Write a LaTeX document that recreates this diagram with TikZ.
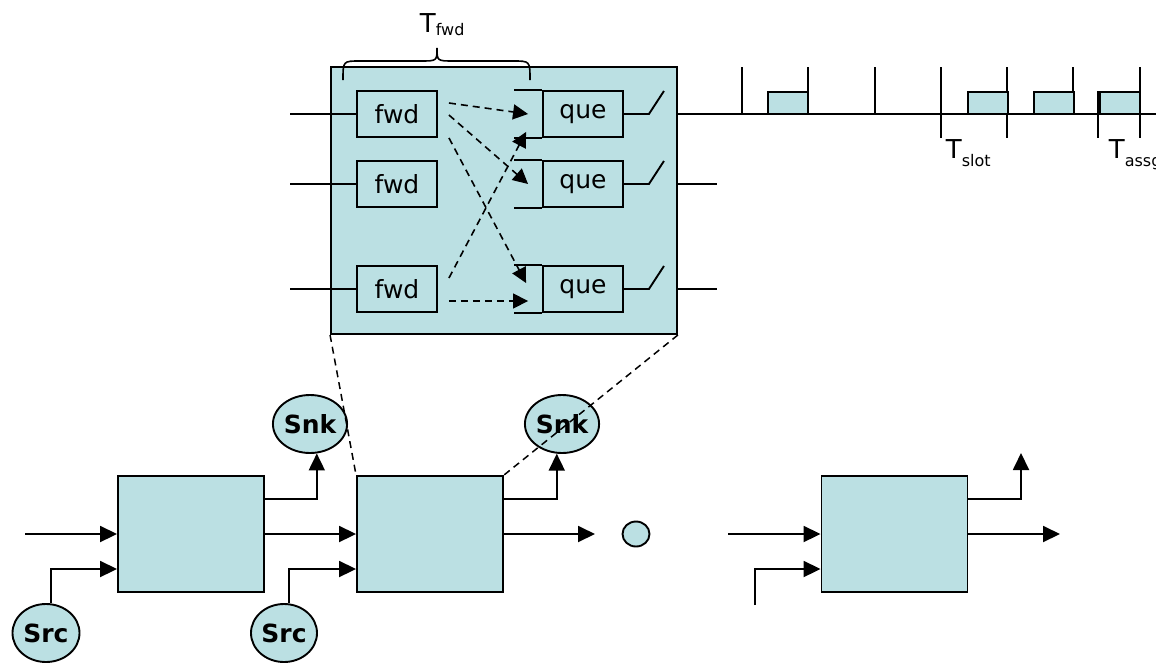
\documentclass[tikz,border=0pt]{standalone}
\usepackage{fontspec}
\setmainfont{DejaVu Sans}
\usetikzlibrary{arrows.meta,calc,shapes.geometric}
\definecolor{boxfill}{RGB}{187,224,227}
\newcommand{\mysubT}[2]{T\raisebox{-#2}{\fontsize{16}{16}\selectfont #1}}
\begin{document}
\begin{tikzpicture}[x=1pt,y=-1pt, line width=1.9pt,
  blk/.style={draw, fill=boxfill, inner sep=0pt},
  small/.style={blk, minimum width=80pt, minimum height=46pt, font=\fontsize{25}{27}\selectfont},
  bigblk/.style={blk, minimum width=146pt, minimum height=116pt},
  arr/.style={-{Triangle[length=17pt,width=16pt]}},
  darr/.style={line width=1.6pt, dash pattern=on 7pt off 5pt, -{Triangle[length=15pt,width=15pt]}},
  zoomline/.style={line width=1.5pt, dash pattern=on 7pt off 5pt},
  ell/.style={draw, fill=boxfill, ellipse, inner sep=0pt, minimum width=66pt, minimum height=58pt, font=\bfseries\fontsize{25}{27}\selectfont},
  tlbl/.style={anchor=base west, inner sep=0pt, font=\fontsize{26}{28}\selectfont}]
\useasboundingbox (0,0) rectangle (1156,662);

% ---------- zoomed router ----------
\node[blk, minimum width=346pt, minimum height=267pt] (big) at (504,200.5) {};

\node[small] (f1) at (397,114) {fwd};
\node[small] (f2) at (397,184) {fwd};
\node[small] (f3) at (397,289) {fwd};
\node[small] (q1) at (583,114) {que};
\node[small] (q2) at (583,184) {que};
\node[small] (q3) at (583,289) {que};

% inputs
\coordinate (i1) at (290,114);
\coordinate (i2) at (290,184);
\coordinate (i3) at (290,289);
\draw (i1) -- (f1.west);
\draw (i2) -- (f2.west);
\draw (i3) -- (f3.west);

% queue brackets
\foreach \q in {q1,q2,q3}{
  \draw (\q.north west) -- ++(-28,0);
  \draw (\q.south west) -- ++(-28,0);
  \draw (\q.east) -- ++(25,0) -- ++(15,-23);
}

% outputs
\coordinate (o2) at (717,184);
\coordinate (o3) at (717,289);
\coordinate (tl) at (1160,114);
\draw (big.east |- q1) -- (tl);
\draw (big.east |- q2) -- (o2);
\draw (big.east |- q3) -- (o3);

% dashed forwarding arrows
\draw[darr] ($(f1.east)+(11,-11)$) -- ($(q1.west)+(-14,0)$);
\draw[darr] ($(f1.east)+(11,1)$) -- ($(q2.west)+(-14,0)$);
\draw[darr] ($(f1.south east)+(11,0)$) -- ($(q3.west)+(-16,-6)$);
\draw[darr] ($(f3.east)+(11,-11)$) -- ($(q1.south west)+(-16,-6)$);
\draw[darr] ($(f3.east)+(11,12)$) -- ($(q3.west)+(-14,12)$);

% brace and T_fwd
\draw[line width=1.6pt] (343,80) .. controls (343,61) .. (360,61) -- (420,61)
  .. controls (437,61) .. (437,48) .. controls (437,61) .. (454,61) -- (513,61)
  .. controls (530,61) .. (530,80);
\node[tlbl] (tfwd) at (419,32) {\mysubT{fwd}{3.5pt}};

% ---------- time line ----------
\foreach \x in {741.7,808,875,1073}{\draw (\x,67) -- (\x,114);}
\foreach \x in {940.7,1006.7,1140}{\draw (\x,67) -- (\x,138);}
\draw (1097.7,91) -- (1097.7,138);
\foreach \x in {768,967.7,1034,1100}{\draw[fill=boxfill] (\x,92) rectangle (\x+40,114);}
\node[tlbl] (tslot) at (945,158) {\mysubT{slot}{8pt}};
\node[tlbl] (tassg) at (1108,158) {\mysubT{assg}{8pt}};

% ---------- lower network ----------
\node[bigblk] (b1) at (191,534) {};
\node[bigblk] (b2) at (430,534) {};
\node[bigblk] (b3) at (894.5,534) {};

\node[ell] (snk1) at (310,424) {Snk};
\node[ell, minimum width=68pt] (snk2) at (562,424) {Snk};
\node[ell, minimum width=67pt] (src1) at (46,633) {Src};
\node[ell] (src2) at (284,633) {Src};
\node[draw, fill=boxfill, ellipse, inner sep=0pt, minimum width=27pt, minimum height=25pt] (dot) at (636,534) {};

\coordinate (a1) at (25,534);
\draw[arr] (a1) -- (b1.west);
\draw[arr] (src1.80) |- ($(b1.west)+(0,35)$);
\draw[arr] ($(b1.east)+(0,-35)$) -| (snk1.-77);
\draw[arr] (b1.east) -- (b2.west);
\draw[arr] (src2.80) |- ($(b2.west)+(0,35)$);
\draw[arr] ($(b2.east)+(0,-35)$) -| (snk2.-100);
\coordinate (e2) at (595,534);
\draw[arr] (b2.east) -- (e2);

\coordinate (a3) at (728,534);
\coordinate (a3s) at (755,605);
\draw[arr] (a3) -- (b3.west);
\draw[arr] (a3s) |- ($(b3.west)+(0,35)$);
\coordinate (e3) at (1060,534);
\coordinate (e3u) at (1021,453);
\draw[arr] (b3.east) -- (e3);
\draw[arr] ($(b3.east)+(0,-35)$) -| (e3u);

% zoom lines
\draw[zoomline] (big.south west) -- (b2.north west);
\draw[zoomline] (big.south east) -- (b2.north east);
\end{tikzpicture}
\end{document}
